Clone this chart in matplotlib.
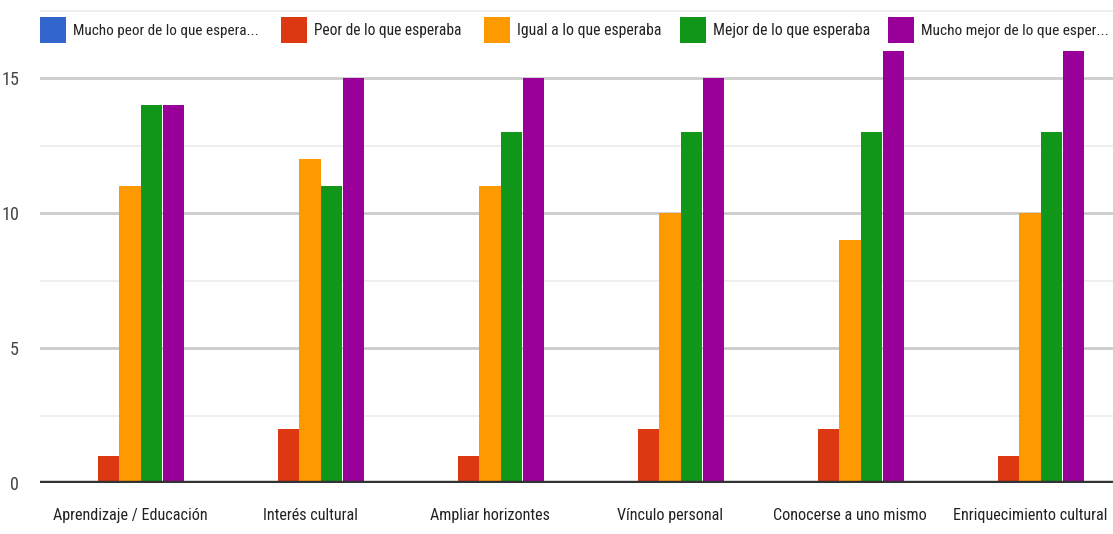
import matplotlib
matplotlib.use("Agg")
import matplotlib.pyplot as plt
from matplotlib import font_manager
from matplotlib.patches import Rectangle
import numpy as np

categories = ["Aprendizaje / Educación", "Interés cultural", "Ampliar horizontes",
              "Vínculo personal", "Conocerse a uno mismo", "Enriquecimiento cultural"]
series_names = ["Mucho peor de lo que espera...", "Peor de lo que esperaba",
                "Igual a lo que esperaba", "Mejor de lo que esperaba",
                "Mucho mejor de lo que esper..."]
mucho_peor = [0, 0, 0, 0, 0, 0]
peor = [1, 2, 1, 2, 2, 1]
igual = [11, 12, 11, 10, 9, 10]
mejor = [14, 11, 13, 13, 13, 13]
mucho_mejor = [14, 15, 15, 15, 16, 16]
yticks = [0, 5, 10, 15]

series = [mucho_peor, peor, igual, mejor, mucho_mejor]
colors = ["#3366cc", "#dc3912", "#ff9900", "#109618", "#990099"]

# pick a narrow family if one is installed
available = {f.name for f in font_manager.fontManager.ttflist}
family = "Roboto"
for cand in ["Roboto Condensed", "Liberation Sans Narrow", "DejaVu Sans Condensed"]:
    if cand in available:
        family = cand
        break
plt.rcParams["font.family"] = [family, "DejaVu Sans"]
fs = 11.6

W, H = 1113, 534
fig = plt.figure(figsize=(W / 100, H / 100), dpi=100)
ax = fig.add_axes([40 / W, 51 / H, 1080 / W, 483 / H])

n_cat = len(categories)
x = np.arange(n_cat)
step = 0.122
width = 0.117
for i, (vals, c) in enumerate(zip(series, colors)):
    ax.bar(x + (i - 2) * step, vals, width=width, color=c, zorder=3,
           edgecolor="none")

ax.set_xlim(-0.5, n_cat - 0.5)
ax.set_ylim(0, 483 / 27)
ax.set_yticks(yticks)
ax.set_yticks([2.5, 7.5, 12.5, 17.5], minor=True)
ax.grid(axis="y", which="major", color="#cccccc", linewidth=2, zorder=0)
ax.grid(axis="y", which="minor", color="#ebebeb", linewidth=1.2, zorder=0)
ax.axhline(0, color="#333333", linewidth=3.2, zorder=4)
for s in ax.spines.values():
    s.set_visible(False)
ax.tick_params(axis="both", which="both", length=0)
ax.set_xticks(x)
ax.set_xticklabels(categories, fontsize=fs, color="#222222")
ax.tick_params(axis="x", pad=18)
ax.set_yticklabels([str(t) for t in yticks], fontsize=fs + 1.5, color="#444444")
ax.tick_params(axis="y", pad=15)

# legend row along the top
legend_x = [40, 281, 484, 680, 888]
legend_fs = [10.9, 11.2, 11.3, 11.3, 11.1]
for name, c, lx, lfs in zip(series_names, colors, legend_x, legend_fs):
    fig.add_artist(Rectangle((lx / W, (H - 43) / H), 26 / W, 26 / H,
                             transform=fig.transFigure, facecolor=c,
                             edgecolor="none", zorder=5))
    fig.text((lx + 33) / W, (H - 31) / H, name, fontsize=lfs, color="#222222",
             va="center", ha="left", zorder=6)

fig.savefig("out.png", dpi=100)
